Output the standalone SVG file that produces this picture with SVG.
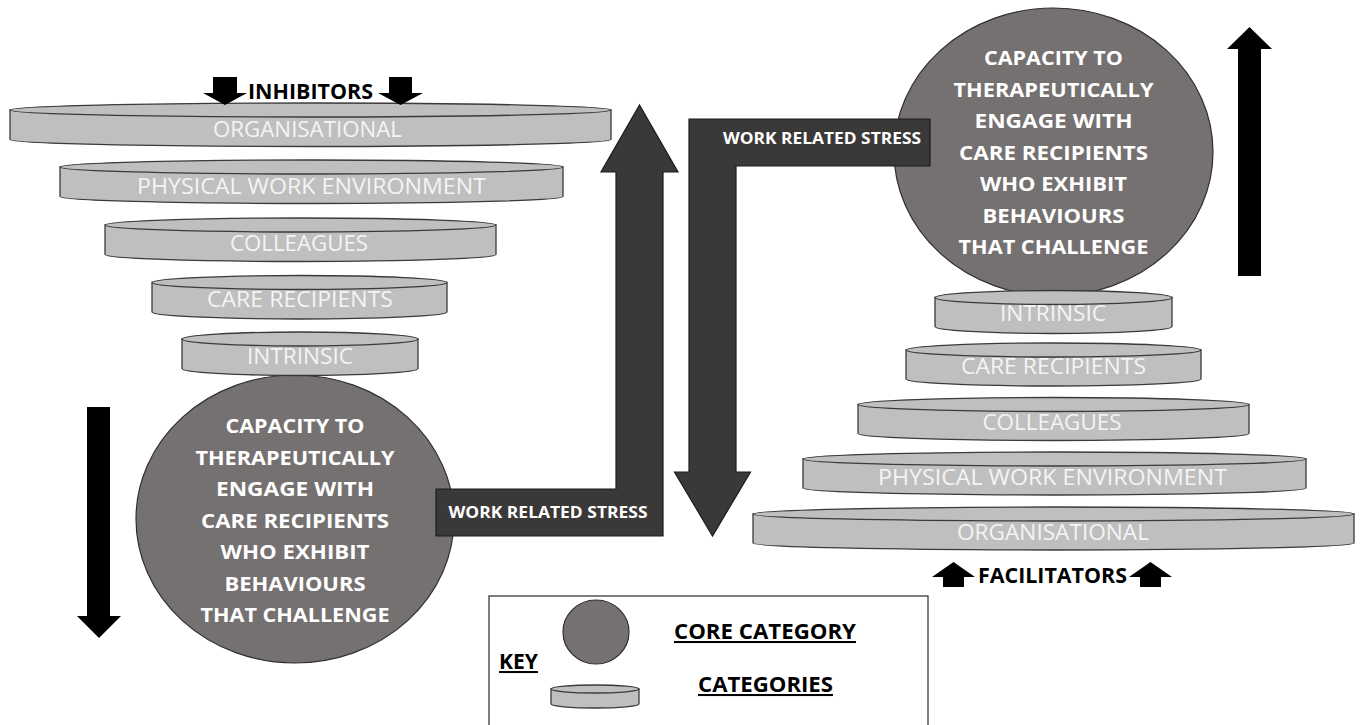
<svg xmlns="http://www.w3.org/2000/svg" width="1363" height="725" viewBox="0 0 1363 725">
  <style>
    .core { fill: #757171; stroke: #2e2e2e; stroke-width: 1.2; }
    .disc { fill: #bfbfbf; stroke: #3a3a3a; stroke-width: 1.3; }
    .stress { fill: #3b3838; stroke: #1c1c1c; stroke-width: 1.2; }
    .dir { fill: #000000; }
    .disc-label { font-family: "Open Sans", "Liberation Sans", sans-serif; font-size: 21px; fill: #f4f4f4; text-anchor: middle; }
    .core-label { font-family: "Open Sans", "Liberation Sans", sans-serif; font-size: 20px; font-weight: bold; fill: #ffffff; text-anchor: middle; }
    .stress-label { font-family: "Open Sans", "Liberation Sans", sans-serif; font-size: 16.5px; font-weight: bold; fill: #ffffff; text-anchor: middle; }
    .heading { font-family: "Open Sans", "Liberation Sans", sans-serif; font-size: 20.5px; font-weight: bold; fill: #000000; text-anchor: middle; }
    .key-label { font-family: "Open Sans", "Liberation Sans", sans-serif; font-size: 20.5px; font-weight: bold; fill: #000000; text-anchor: middle; text-decoration: underline; }
    .keybox { fill: #ffffff; stroke: #3a3a3a; stroke-width: 1.3; }
  </style>

  <rect x="0" y="0" width="1363" height="725" fill="#ffffff"/>

  <!-- Core category (left, reduced capacity) -->
  <g id="core-left">
    <ellipse class="core" cx="295" cy="519" rx="159" ry="144"/>
    <text class="core-label" x="295" y="433" textLength="139" lengthAdjust="spacingAndGlyphs">CAPACITY TO</text>
    <text class="core-label" x="295" y="464.5" textLength="199" lengthAdjust="spacingAndGlyphs">THERAPEUTICALLY</text>
    <text class="core-label" x="295" y="496" textLength="158" lengthAdjust="spacingAndGlyphs">ENGAGE WITH</text>
    <text class="core-label" x="295" y="527.5" textLength="188" lengthAdjust="spacingAndGlyphs">CARE RECIPIENTS</text>
    <text class="core-label" x="295" y="559" textLength="149" lengthAdjust="spacingAndGlyphs">WHO EXHIBIT</text>
    <text class="core-label" x="295" y="590.5" textLength="141" lengthAdjust="spacingAndGlyphs">BEHAVIOURS</text>
    <text class="core-label" x="295" y="622" textLength="189" lengthAdjust="spacingAndGlyphs">THAT CHALLENGE</text>
  </g>

  <!-- Core category (right, increased capacity) -->
  <g id="core-right">
    <ellipse class="core" cx="1053.5" cy="152" rx="159.5" ry="144"/>
    <text class="core-label" x="1053.5" y="65" textLength="139" lengthAdjust="spacingAndGlyphs">CAPACITY TO</text>
    <text class="core-label" x="1053.5" y="96.5" textLength="200" lengthAdjust="spacingAndGlyphs">THERAPEUTICALLY</text>
    <text class="core-label" x="1053.5" y="128" textLength="158" lengthAdjust="spacingAndGlyphs">ENGAGE WITH</text>
    <text class="core-label" x="1053.5" y="159.5" textLength="189" lengthAdjust="spacingAndGlyphs">CARE RECIPIENTS</text>
    <text class="core-label" x="1053.5" y="191" textLength="147" lengthAdjust="spacingAndGlyphs">WHO EXHIBIT</text>
    <text class="core-label" x="1053.5" y="222.5" textLength="142" lengthAdjust="spacingAndGlyphs">BEHAVIOURS</text>
    <text class="core-label" x="1053.5" y="254" textLength="190" lengthAdjust="spacingAndGlyphs">THAT CHALLENGE</text>
  </g>

  <!-- Inhibiting categories (inverted stack) -->
  <g id="inhib-organisational">
    <path class="disc" d="M10,110 V139.5 A300.5,7 0 0 0 611,139.5 V110 Z"/>
    <ellipse class="disc" cx="310.5" cy="110" rx="300.5" ry="7"/>
    <text class="disc-label" x="307.5" y="137" textLength="189" lengthAdjust="spacingAndGlyphs">ORGANISATIONAL</text>
  </g>
  <g id="inhib-physical">
    <path class="disc" d="M60,167 V196.5 A251.5,7 0 0 0 563,196.5 V167 Z"/>
    <ellipse class="disc" cx="311.5" cy="167" rx="251.5" ry="7"/>
    <text class="disc-label" x="311.5" y="194" textLength="349" lengthAdjust="spacingAndGlyphs">PHYSICAL WORK ENVIRONMENT</text>
  </g>
  <g id="inhib-colleagues">
    <path class="disc" d="M105,225 V254.5 A195.5,7 0 0 0 496,254.5 V225 Z"/>
    <ellipse class="disc" cx="300.5" cy="225" rx="195.5" ry="7"/>
    <text class="disc-label" x="299" y="251" textLength="138" lengthAdjust="spacingAndGlyphs">COLLEAGUES</text>
  </g>
  <g id="inhib-care-recipients">
    <path class="disc" d="M152,282.5 V312 A147.5,7 0 0 0 447,312 V282.5 Z"/>
    <ellipse class="disc" cx="299.5" cy="282.5" rx="147.5" ry="7"/>
    <text class="disc-label" x="300" y="307" textLength="186" lengthAdjust="spacingAndGlyphs">CARE RECIPIENTS</text>
  </g>
  <g id="inhib-intrinsic">
    <path class="disc" d="M182,339 V368.5 A118,7 0 0 0 418,368.5 V339 Z"/>
    <ellipse class="disc" cx="300" cy="339" rx="118" ry="7"/>
    <text class="disc-label" x="300" y="364" textLength="106" lengthAdjust="spacingAndGlyphs">INTRINSIC</text>
  </g>

  <!-- Facilitating categories (upright stack) -->
  <g id="facil-intrinsic">
    <path class="disc" d="M935,297.5 V326.5 A118.5,7 0 0 0 1172,326.5 V297.5 Z"/>
    <ellipse class="disc" cx="1053.5" cy="297.5" rx="118.5" ry="7"/>
    <text class="disc-label" x="1053" y="321" textLength="106" lengthAdjust="spacingAndGlyphs">INTRINSIC</text>
  </g>
  <g id="facil-care-recipients">
    <path class="disc" d="M906,350 V379 A147.5,7 0 0 0 1201,379 V350 Z"/>
    <ellipse class="disc" cx="1053.5" cy="350" rx="147.5" ry="7"/>
    <text class="disc-label" x="1053.5" y="374" textLength="185" lengthAdjust="spacingAndGlyphs">CARE RECIPIENTS</text>
  </g>
  <g id="facil-colleagues">
    <path class="disc" d="M858,404.5 V433.5 A195.5,7 0 0 0 1249,433.5 V404.5 Z"/>
    <ellipse class="disc" cx="1053.5" cy="404.5" rx="195.5" ry="7"/>
    <text class="disc-label" x="1052" y="430" textLength="139" lengthAdjust="spacingAndGlyphs">COLLEAGUES</text>
  </g>
  <g id="facil-physical">
    <path class="disc" d="M803,459 V488 A251.5,7 0 0 0 1306,488 V459 Z"/>
    <ellipse class="disc" cx="1054.5" cy="459" rx="251.5" ry="7"/>
    <text class="disc-label" x="1052.5" y="485" textLength="349" lengthAdjust="spacingAndGlyphs">PHYSICAL WORK ENVIRONMENT</text>
  </g>
  <g id="facil-organisational">
    <path class="disc" d="M753,514 V543 A300.5,7 0 0 0 1354,543 V514 Z"/>
    <ellipse class="disc" cx="1053.5" cy="514" rx="300.5" ry="7"/>
    <text class="disc-label" x="1053" y="539.5" textLength="192" lengthAdjust="spacingAndGlyphs">ORGANISATIONAL</text>
  </g>

  <!-- Connectors: work related stress loop and direction arrows -->
  <g id="connectors">
    <path class="stress" d="M436,489 H616 V172 H601 L639.5,105 L678,172 H663 V536 H436 Z"/>
    <path class="stress" d="M930,119 V166 H736 V472 H750.5 L712.5,536 L674.5,472 H689 V119 Z"/>
    <path class="dir" d="M87,407 H110 V616 H121 L99,638 L77,616 H87 Z"/>
    <path class="dir" d="M1238,276 H1261 V49 H1272 L1249.5,27 L1227,49 H1238 Z"/>
    <path class="dir" d="M213,77 H237 V93 H247 L225,105 L203,93 H213 Z"/>
    <path class="dir" d="M389,77 H412 V93 H423 L400.5,105 L378,93 H389 Z"/>
    <path class="dir" d="M943,587 H964 V577 H975 L953.5,562 L932,577 H943 Z"/>
    <path class="dir" d="M1140,587 H1161 V577 H1172 L1150.5,562 L1129,577 H1140 Z"/>
  </g>

  <g id="stress-labels">
    <text class="stress-label" x="548" y="518" textLength="199" lengthAdjust="spacingAndGlyphs">WORK RELATED STRESS</text>
    <text class="stress-label" x="822" y="144" textLength="198" lengthAdjust="spacingAndGlyphs">WORK RELATED STRESS</text>
  </g>

  <g id="inhibitors-heading">
    <text class="heading" x="310.5" y="99" textLength="125" lengthAdjust="spacingAndGlyphs">INHIBITORS</text>
  </g>
  <g id="facilitators-heading">
    <text class="heading" x="1052.5" y="583" textLength="149" lengthAdjust="spacingAndGlyphs">FACILITATORS</text>
  </g>

  <!-- Key -->
  <g id="key">
    <rect class="keybox" x="489" y="596" width="439" height="140"/>
    <ellipse class="core" cx="596" cy="632" rx="33" ry="32"/>
    <path class="disc" d="M551,689 V704 A44,4 0 0 0 639,704 V689 Z"/>
    <ellipse class="disc" cx="595" cy="689" rx="44" ry="4"/>
    <text class="key-label" x="518.5" y="669" textLength="39" lengthAdjust="spacingAndGlyphs">KEY</text>
    <text class="key-label" x="765" y="639" textLength="182" lengthAdjust="spacingAndGlyphs">CORE CATEGORY</text>
    <text class="key-label" x="765.5" y="692" textLength="135" lengthAdjust="spacingAndGlyphs">CATEGORIES</text>
  </g>
</svg>
